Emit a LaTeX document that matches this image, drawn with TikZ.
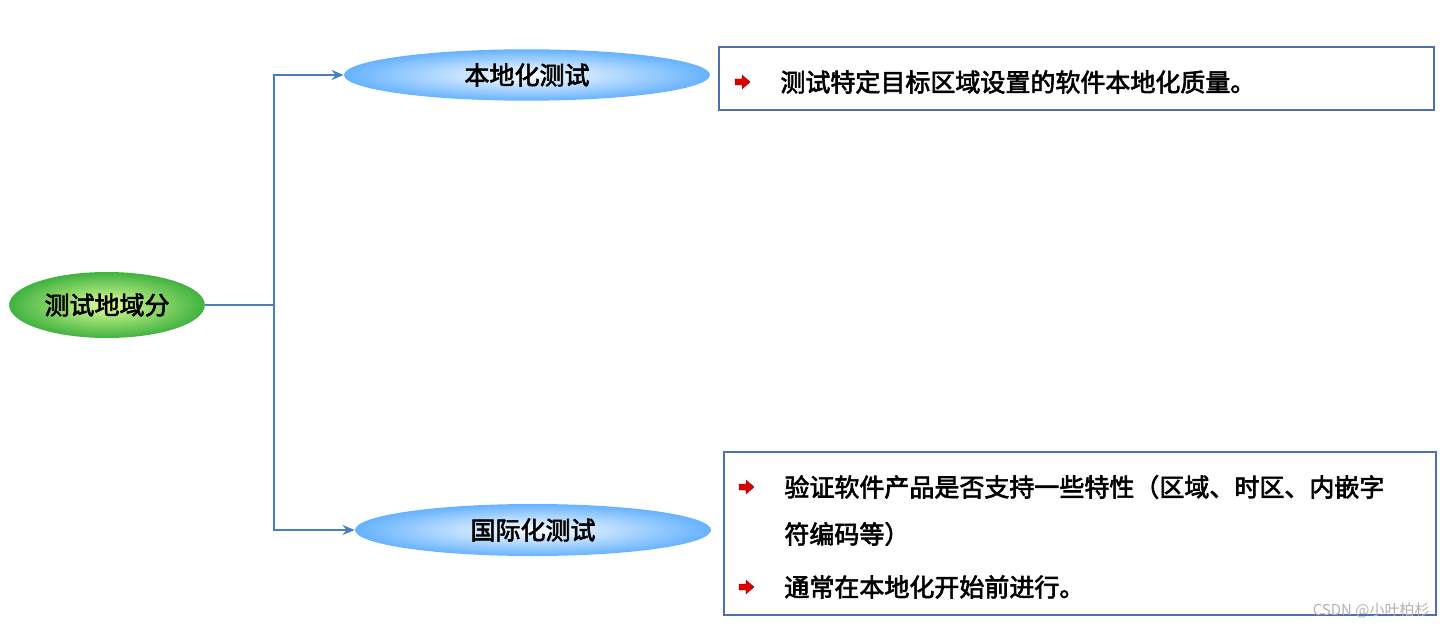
\documentclass[tikz,border=0pt]{standalone}
\usepackage{fontspec}
\setmainfont{Noto Sans CJK SC}[AutoFakeBold=2.5]
\usetikzlibrary{shapes.geometric,arrows.meta}
\definecolor{lnk}{HTML}{4A7EBB}
\definecolor{bx}{HTML}{4F6FB0}
\tikzset{
 lbl/.style={font=\fontsize{12.5}{15}\selectfont\bfseries, text=black},
 blueell/.style={ellipse, inner color=white!60!cyan!20, outer color=cyan!35!blue!45, minimum width=#1*1pt},
 link/.style={draw=lnk, line width=0.7pt},
 boxs/.style={draw=bx, line width=0.9pt},
 bul/.style={fill=red!85!black, draw=red!50!black, line width=0.2pt},
 txt/.style={lbl, anchor=west, inner sep=0pt}
}
\newcommand{\bulletarrow}[2]{%
 \fill[bul] (#1-7,#2-3) -- (#1,#2-3) -- (#1,#2-7) -- (#1+8,#2) -- (#1,#2+7) -- (#1,#2+3) -- (#1-7,#2+3) -- cycle;}
\begin{document}
\begin{tikzpicture}[x=0.5pt,y=-0.5pt]
\useasboundingbox (0,0) rectangle (1444,630);
\node[ellipse, minimum width=97pt, minimum height=33pt, inner color=green!30!yellow!40, outer color=green!60!black!75, lbl] (root) at (107,305) {测试地域分};
\node[ellipse, minimum width=183pt, minimum height=25pt, inner color=white, outer color=cyan!50!blue!60, lbl] (loc) at (527,75) {本地化测试};
\node[ellipse, minimum width=178pt, minimum height=26pt, inner color=white, outer color=cyan!50!blue!60, lbl] (intl) at (533,530) {国际化测试};
\coordinate (j) at (274,305);
\draw[link] (root.east) -- (j);
\draw[link,-{Stealth[length=6pt,width=5pt]}] (j) |- (loc.west);
\draw[link,-{Stealth[length=6pt,width=5pt]}] (j) |- (intl.west);
\draw[boxs] (719,47) rectangle (1434,110);
\draw[boxs] (724,452) rectangle (1436,615);
\bulletarrow{742}{82}
\node[txt] (t1) at (780,82) {测试特定目标区域设置的软件本地化质量。};
\bulletarrow{746}{487}
\node[txt] (t2) at (784,487) {验证软件产品是否支持一些特性（区域、时区、内嵌字};
\node[txt] (t3) at (784,534) {符编码等）};
\bulletarrow{746}{587}
\node[txt] (t4) at (784,587) {通常在本地化开始前进行。};
\node[anchor=east, text=gray!60, font=\fontsize{7.5}{9}\selectfont, inner sep=0pt] (wm) at (1430,610) {CSDN @小叶柏杉};
\end{tikzpicture}
\end{document}
